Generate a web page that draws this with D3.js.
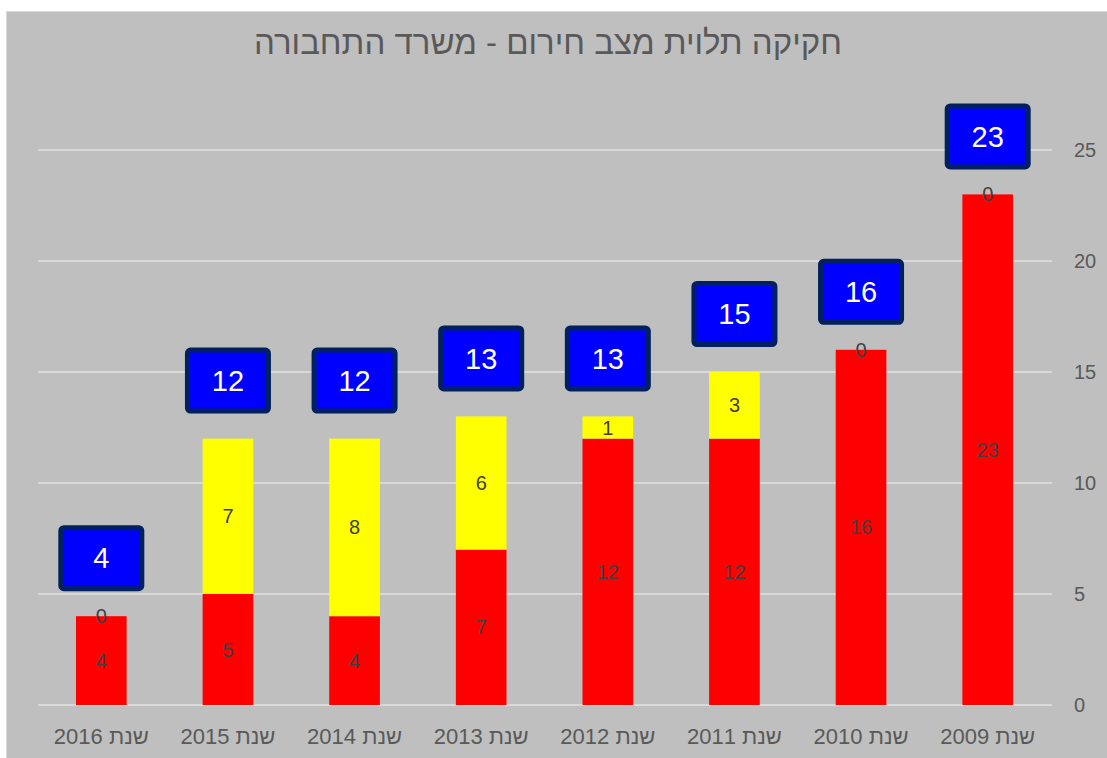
<!DOCTYPE html>
<html>
<head>
<meta charset="utf-8">
<script src="https://cdn.jsdelivr.net/npm/d3@7"></script>
<style>
  body { margin: 0; background: #ffffff; }
  svg { display: block; font-family: "Liberation Sans", Arial, sans-serif; }
</style>
</head>
<body>
<div id="chart"></div>
<script>
// data (left to right as drawn)
let years = ["שנת 2016", "שנת 2015", "שנת 2014", "שנת 2013", "שנת 2012", "שנת 2011", "שנת 2010", "שנת 2009"]
let redValues = [4, 5, 4, 7, 12, 12, 16, 23]
let yellowValues = [0, 7, 8, 6, 1, 3, 0, 0]
let totals = [4, 12, 12, 13, 13, 15, 16, 23]
let yTicks = [0, 5, 10, 15, 20, 25]
let title = "חקיקה תלוית מצב חירום - משרד התחבורה"

let svgWidth = 1107
let svgHeight = 758

let svg = d3.select("#chart")
    .append("svg")
        .attr("width", svgWidth)
        .attr("height", svgHeight)

// chart background
svg.append("rect")
    .attr("x", 6.5)
    .attr("y", 11.5)
    .attr("width", svgWidth)
    .attr("height", svgHeight)
    .attr("fill", "#bfbfbf")
    .attr("stroke", "#d9d9d9")
    .attr("stroke-width", 1)

let x = d3.scaleBand()
    .domain(years)
    .range([38, 1051])
    .paddingInner(0.6)
    .paddingOuter(0.3)

let y = d3.scaleLinear()
    .domain([0, 25])
    .range([705, 150])

// gridlines
svg.selectAll(".grid")
    .data(yTicks)
    .join("line")
    .attr("x1", 38)
    .attr("x2", 1052)
    .attr("y1", d => y(d))
    .attr("y2", d => y(d))
    .attr("stroke", "#d9d9d9")
    .attr("stroke-width", 2)

// right axis labels
svg.selectAll(".ytick")
    .data(yTicks)
    .join("text")
    .attr("x", 1074)
    .attr("y", d => y(d))
    .attr("dy", "0.35em")
    .attr("fill", "#595959")
    .attr("font-size", 20)
    .text(d => d)

// stacked data
let stackData = years.map((yr, i) => ({year: yr, red: redValues[i], yellow: yellowValues[i]}))
let series = d3.stack().keys(["red", "yellow"])(stackData)
let colour = {red: "#ff0000", yellow: "#ffff00"}

series.forEach(s => {
    svg.selectAll(".bar-" + s.key)
        .data(s)
        .join("rect")
        .attr("x", d => x(d.data.year))
        .attr("width", x.bandwidth())
        .attr("y", d => y(d[1]))
        .attr("height", d => y(d[0]) - y(d[1]))
        .attr("fill", colour[s.key])
})

series.forEach(s => {
    svg.selectAll(".lbl-" + s.key)
        .data(s)
        .join("text")
        .attr("x", d => x(d.data.year) + x.bandwidth() / 2)
        .attr("y", d => (y(d[0]) + y(d[1])) / 2)
        .attr("dy", "0.35em")
        .attr("text-anchor", "middle")
        .attr("fill", "#404040")
        .attr("font-size", 20)
        .text(d => d[1] - d[0])
})

// total boxes
let boxW = 81
let boxH = 61
let boxes = svg.selectAll(".total")
    .data(years.map((yr, i) => ({year: yr, total: totals[i]})))
    .join("g")
    .attr("transform", d => `translate(${x(d.year) + x.bandwidth() / 2}, ${y(d.total) - 58})`)

boxes.append("rect")
    .attr("x", -boxW / 2)
    .attr("y", -boxH / 2)
    .attr("width", boxW)
    .attr("height", boxH)
    .attr("rx", 3)
    .attr("fill", "#0000ff")
    .attr("stroke", "#002060")
    .attr("stroke-width", 5)

boxes.append("text")
    .attr("text-anchor", "middle")
    .attr("dy", "0.35em")
    .attr("fill", "#ffffff")
    .attr("font-size", 29)
    .text(d => d.total)

// category labels
svg.selectAll(".xlbl")
    .data(years)
    .join("text")
    .attr("x", d => x(d) + x.bandwidth() / 2)
    .attr("y", 736)
    .attr("dy", "0.35em")
    .attr("text-anchor", "middle")
    .attr("direction", "rtl")
    .attr("fill", "#595959")
    .attr("font-size", 22)
    .text(d => d)

// title
svg.append("text")
    .attr("x", 548)
    .attr("y", 42)
    .attr("dy", "0.35em")
    .attr("text-anchor", "middle")
    .attr("direction", "rtl")
    .attr("fill", "#595959")
    .attr("font-size", 33)
    .text(title)
</script>
</body>
</html>
